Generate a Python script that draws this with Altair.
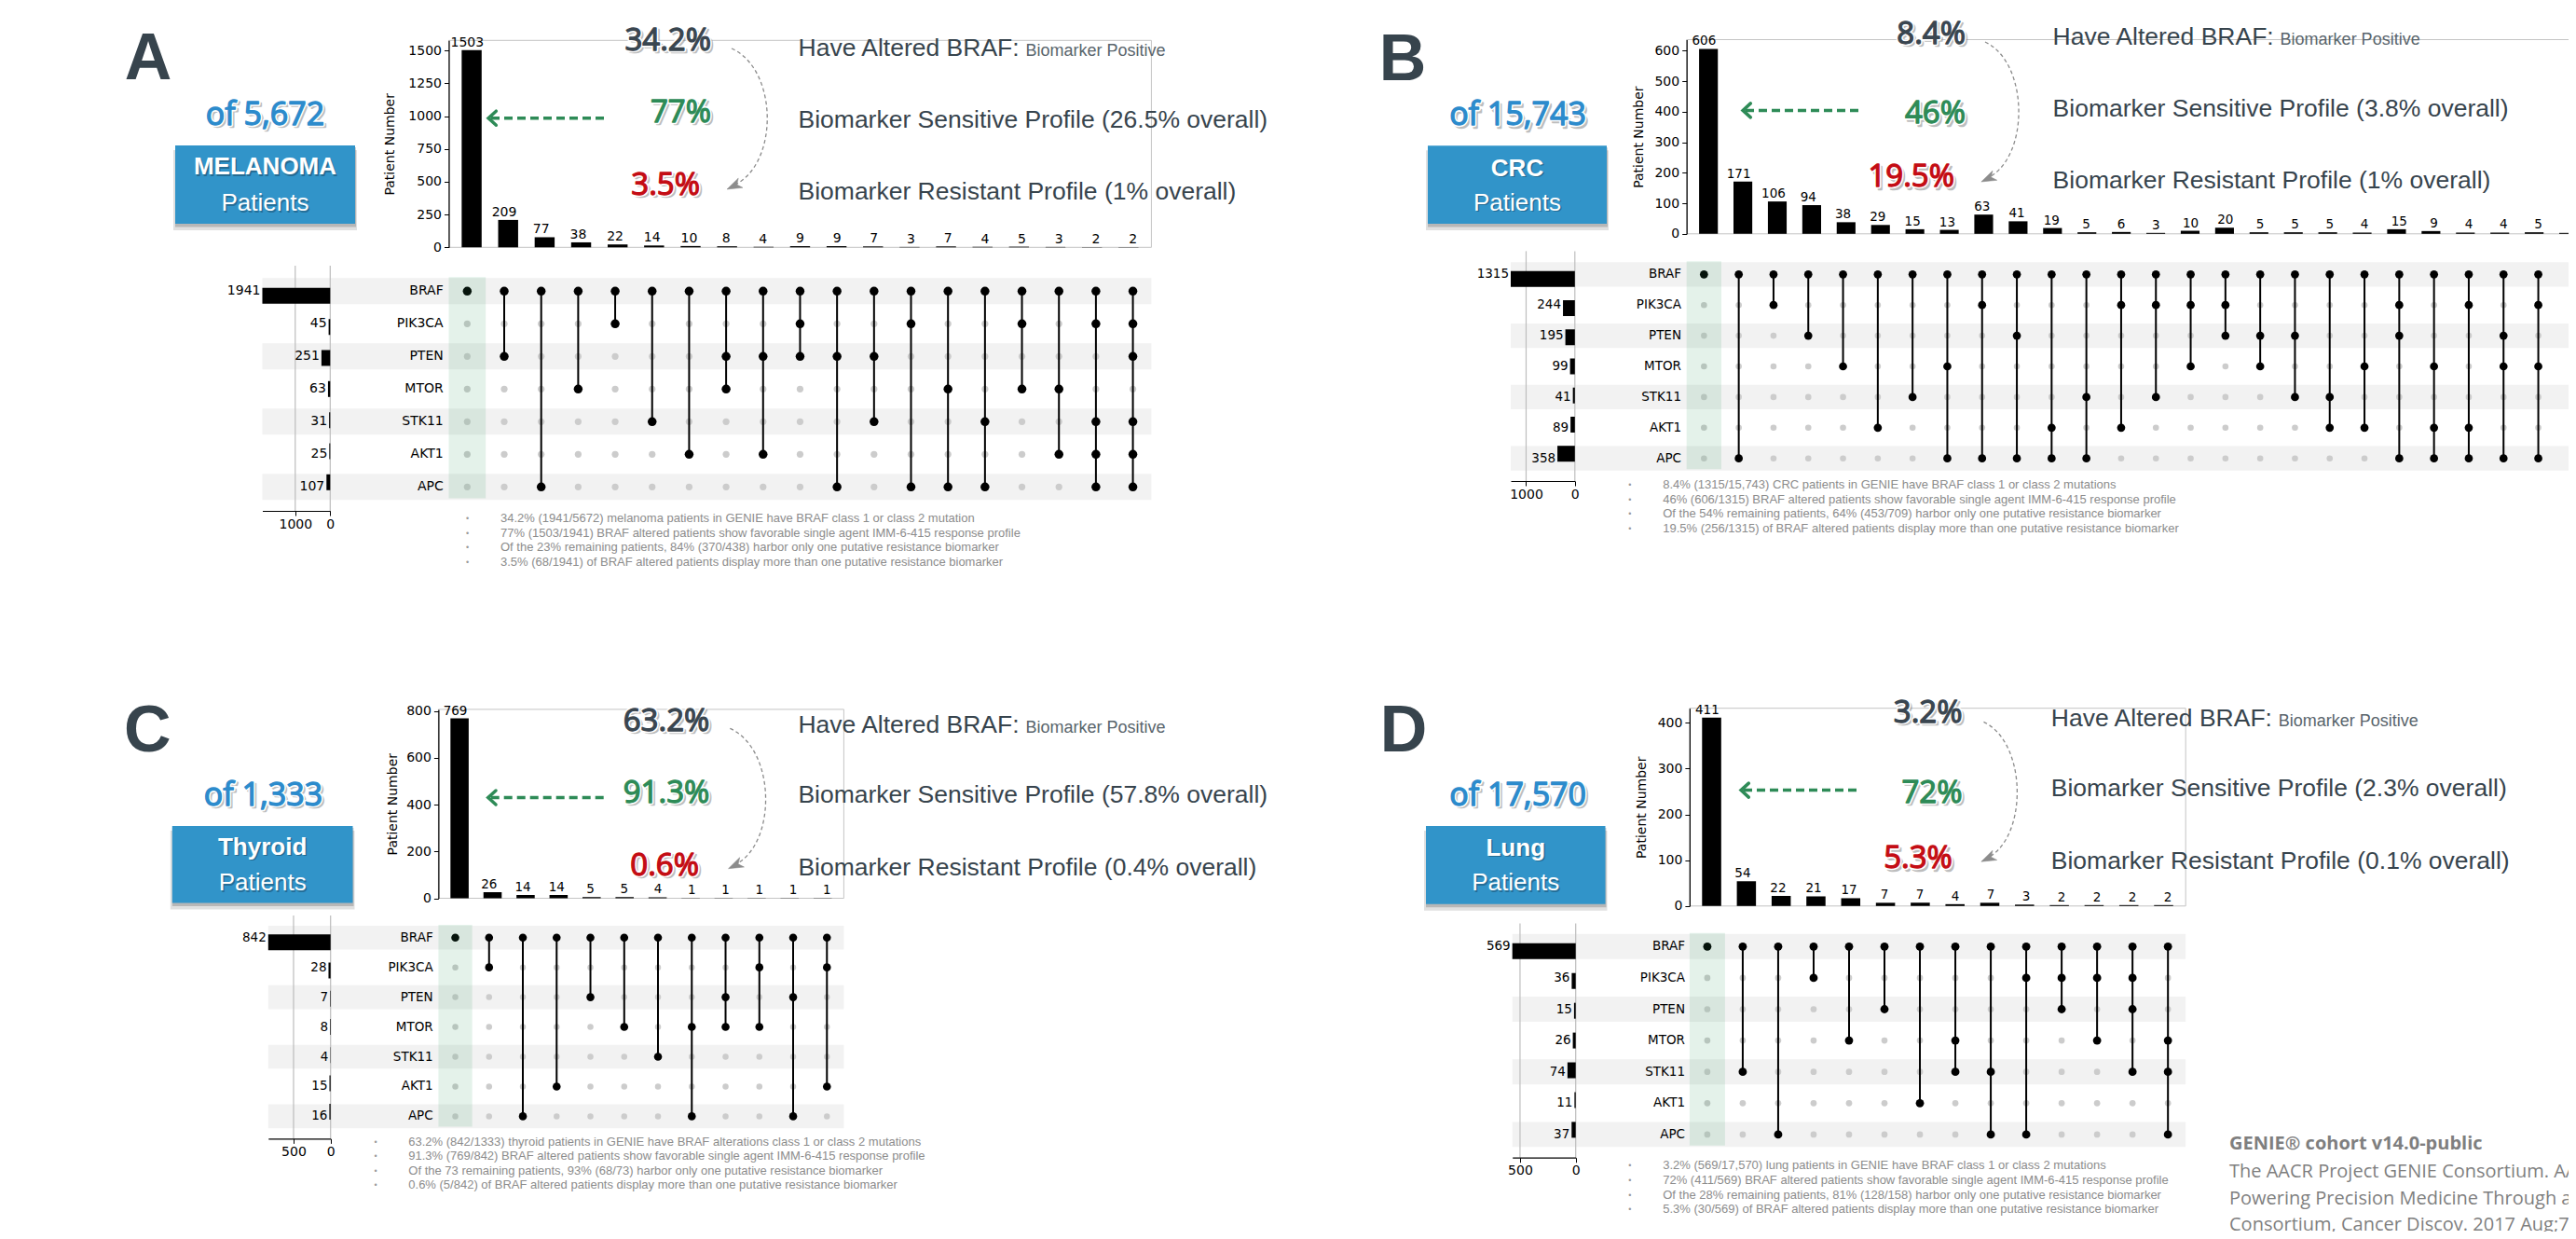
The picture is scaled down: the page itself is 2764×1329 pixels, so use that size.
import altair as alt
import pandas as pd

M = 8
W, H = 2748, 1313

GENES = ["BRAF", "PIK3CA", "PTEN", "MTOR", "STK11", "AKT1", "APC"]

# ---------------- Panel A: melanoma
A_SET_SIZES = [1941, 45, 251, 63, 31, 25, 107]
A_COUNTS = [1503, 209, 77, 38, 22, 14, 10, 8, 4, 9, 9, 7, 3, 7, 4, 5, 3, 2, 2]
A_COMBOS = [
    ["BRAF"], ["BRAF", "PTEN"], ["BRAF", "APC"], ["BRAF", "MTOR"], ["BRAF", "PIK3CA"],
    ["BRAF", "STK11"], ["BRAF", "AKT1"], ["BRAF", "PTEN", "MTOR"], ["BRAF", "PTEN", "AKT1"],
    ["BRAF", "PIK3CA", "PTEN"], ["BRAF", "PTEN", "APC"], ["BRAF", "PTEN", "STK11"],
    ["BRAF", "PIK3CA", "APC"], ["BRAF", "MTOR", "APC"], ["BRAF", "STK11", "APC"],
    ["BRAF", "PIK3CA", "MTOR"], ["BRAF", "MTOR", "AKT1"],
    ["BRAF", "PIK3CA", "STK11", "AKT1", "APC"],
    ["BRAF", "PIK3CA", "PTEN", "STK11", "AKT1", "APC"],
]
A_YTICKS = [0, 250, 500, 750, 1000, 1250, 1500]
A_SSTICKS = [1000, 0]
A_TEXT = dict(
    letter="A", total="of 5,672", cohort="MELANOMA", pcts=["34.2%", "77%", "3.5%"],
    sens="Biomarker Sensitive Profile (26.5% overall)", res="Biomarker Resistant Profile (1% overall)",
    notes=[
        "34.2% (1941/5672) melanoma patients in GENIE have BRAF class 1 or class 2 mutation",
        "77% (1503/1941) BRAF altered patients show favorable single agent IMM-6-415 response profile",
        "Of the 23% remaining patients, 84% (370/438) harbor only one putative resistance biomarker",
        "3.5% (68/1941) of BRAF altered patients display more than one putative resistance biomarker",
    ])

# ---------------- Panel B: CRC
B_SET_SIZES = [1315, 244, 195, 99, 41, 89, 358]
B_COUNTS = [606, 171, 106, 94, 38, 29, 15, 13, 63, 41, 19, 5, 6, 3, 10, 20, 5, 5, 5, 4, 15, 9, 4, 4, 5, 3]
B_COMBOS = [
    ["BRAF"], ["BRAF", "APC"], ["BRAF", "PIK3CA"], ["BRAF", "PTEN"], ["BRAF", "MTOR"],
    ["BRAF", "AKT1"], ["BRAF", "STK11"], ["BRAF", "MTOR", "APC"], ["BRAF", "PIK3CA", "APC"],
    ["BRAF", "PTEN", "APC"], ["BRAF", "AKT1", "APC"], ["BRAF", "STK11", "APC"],
    ["BRAF", "PIK3CA", "AKT1"], ["BRAF", "PIK3CA", "STK11"], ["BRAF", "PIK3CA", "MTOR"],
    ["BRAF", "PIK3CA", "PTEN"], ["BRAF", "PTEN", "MTOR"], ["BRAF", "PTEN", "STK11"],
    ["BRAF", "STK11", "AKT1"], ["BRAF", "MTOR", "AKT1"], ["BRAF", "PIK3CA", "PTEN", "APC"],
    ["BRAF", "MTOR", "AKT1", "APC"], ["BRAF", "PIK3CA", "AKT1", "APC"],
    ["BRAF", "PTEN", "MTOR", "APC"], ["BRAF", "PIK3CA", "MTOR", "APC"],
    ["BRAF", "PIK3CA", "PTEN", "MTOR"],
]
B_YTICKS = [0, 100, 200, 300, 400, 500, 600]
B_SSTICKS = [1000, 0]
B_TEXT = dict(
    letter="B", total="of 15,743", cohort="CRC", pcts=["8.4%", "46%", "19.5%"],
    sens="Biomarker Sensitive Profile (3.8% overall)", res="Biomarker Resistant Profile (1% overall)",
    notes=[
        "8.4% (1315/15,743) CRC patients in GENIE have BRAF class 1 or class 2 mutations",
        "46% (606/1315) BRAF altered patients show favorable single agent IMM-6-415 response profile",
        "Of the 54% remaining patients, 64% (453/709) harbor only one putative resistance biomarker",
        "19.5% (256/1315) of BRAF altered patients display more than one putative resistance biomarker",
    ])

# ---------------- Panel C: thyroid
C_SET_SIZES = [842, 28, 7, 8, 4, 15, 16]
C_COUNTS = [769, 26, 14, 14, 5, 5, 4, 1, 1, 1, 1, 1]
C_COMBOS = [
    ["BRAF"], ["BRAF", "PIK3CA"], ["BRAF", "APC"], ["BRAF", "AKT1"], ["BRAF", "PTEN"],
    ["BRAF", "MTOR"], ["BRAF", "STK11"], ["BRAF", "MTOR", "APC"], ["BRAF", "PTEN", "MTOR"],
    ["BRAF", "PIK3CA", "MTOR"], ["BRAF", "PTEN", "APC"], ["BRAF", "PIK3CA", "AKT1"],
]
C_YTICKS = [0, 200, 400, 600, 800]
C_SSTICKS = [500, 0]
C_TEXT = dict(
    letter="C", total="of 1,333", cohort="Thyroid", pcts=["63.2%", "91.3%", "0.6%"],
    sens="Biomarker Sensitive Profile (57.8% overall)", res="Biomarker Resistant Profile (0.4% overall)",
    notes=[
        "63.2% (842/1333) thyroid patients in GENIE have BRAF alterations class 1 or class 2 mutations",
        "91.3% (769/842) BRAF altered patients show favorable single agent IMM-6-415 response profile",
        "Of the 73 remaining patients, 93% (68/73) harbor only one putative resistance biomarker",
        "0.6% (5/842) of BRAF altered patients display more than one putative resistance biomarker",
    ])

# ---------------- Panel D: lung
D_SET_SIZES = [569, 36, 15, 26, 74, 11, 37]
D_COUNTS = [411, 54, 22, 21, 17, 7, 7, 4, 7, 3, 2, 2, 2, 2]
D_COMBOS = [
    ["BRAF"], ["BRAF", "STK11"], ["BRAF", "APC"], ["BRAF", "PIK3CA"], ["BRAF", "MTOR"],
    ["BRAF", "PTEN"], ["BRAF", "AKT1"], ["BRAF", "MTOR", "STK11"], ["BRAF", "STK11", "APC"],
    ["BRAF", "PIK3CA", "APC"], ["BRAF", "PIK3CA", "PTEN"], ["BRAF", "PIK3CA", "MTOR"],
    ["BRAF", "PIK3CA", "PTEN", "STK11"], ["BRAF", "MTOR", "STK11", "APC"],
]
D_YTICKS = [0, 100, 200, 300, 400]
D_SSTICKS = [500, 0]
D_TEXT = dict(
    letter="D", total="of 17,570", cohort="Lung", pcts=["3.2%", "72%", "5.3%"],
    sens="Biomarker Sensitive Profile (2.3% overall)", res="Biomarker Resistant Profile (0.1% overall)",
    notes=[
        "3.2% (569/17,570) lung patients in GENIE have BRAF class 1 or class 2 mutations",
        "72% (411/569) BRAF altered patients show favorable single agent IMM-6-415 response profile",
        "Of the 28% remaining patients, 81% (128/158) harbor only one putative resistance biomarker",
        "5.3% (30/569) of BRAF altered patients display more than one putative resistance biomarker",
    ])

HEADLINE = "Have Altered BRAF:"
HEADLINE_SUB = "Biomarker Positive"
CREDIT = [
    "GENIE® cohort v14.0-public",
    "The AACR Project GENIE Consortium. AACR Project GENIE:",
    "Powering Precision Medicine Through an International",
    "Consortium, Cancer Discov. 2017 Aug;7(8):818-831.",
]

# ---------------- layout (page pixels)
LAYOUT = {
    "A": dict(letter=(159, 85), total=(284.5, 121.7), box=(188, 156, 381, 240), box_lines=(178, 217),
              bar_x0=481.5, sp=39.68, bar_y0=265.3, bar_ytop=43.3, title_pad=12,
              row0=312.3, rstep=35, gene_right=475.7, ss_zero=354.3, ss_max=281.5,
              ss_axis_y=548, ss_grid_top=285,
              pct_right=(763, 763, 751), pct_y=(41.7, 119, 196.8), garrow=(651.7, 524, 126.7),
              curve=(785, 52, 822.7, 127, 780, 203), text_x=856.5, text_y=(50, 127, 204),
              foot=(501.7, 537, 556, 15.6), fs=14, dot_a=90, dot_i=52),
    "B": dict(letter=(1505, 85.7), total=(1628.5, 122.4), box=(1532, 156.3, 1724, 240), box_lines=(179.6, 216.3),
              bar_x0=1809.7, sp=37.3, bar_y0=250.8, bar_ytop=42.5, title_pad=9,
              row0=294.3, rstep=32.9, gene_right=1804, ss_zero=1689.8, ss_max=1621,
              ss_axis_y=516, ss_grid_top=269.4,
              pct_right=(2109, 2109, 2097), pct_y=(34.7, 120.4, 188.6), garrow=(1995, 1870, 118.4),
              curve=(2130, 45, 2165.5, 118, 2125.8, 195), text_x=2202.6, text_y=(38.8, 115.5, 192.6),
              foot=(1748.9, 1784.2, 520.4, 15.4), fs=13.5, dot_a=76, dot_i=44),
    "C": dict(letter=(158.4, 806), total=(282.5, 851.8), box=(184.8, 886, 378.5, 968.5), box_lines=(907.6, 946),
              bar_x0=470.4, sp=36.25, bar_y0=963.5, bar_ytop=760.9, title_pad=7,
              row0=1005.7, rstep=31.95, gene_right=464.7, ss_zero=354.7, ss_max=287.8,
              ss_axis_y=1221.4, ss_grid_top=982,
              pct_right=(761.3, 761.3, 750), pct_y=(771.9, 848.9, 927.1), garrow=(649.5, 523.7, 855.5),
              curve=(783.3, 781.4, 821, 853.8, 781.5, 931.7), text_x=856.4, text_y=(776, 851.8, 929.6),
              foot=(403, 438.3, 1224.7, 15.4), fs=13.5, dot_a=74, dot_i=42),
    "D": dict(letter=(1506, 806), total=(1628.6, 851.8), box=(1530, 886, 1722.5, 969.7), box_lines=(908.5, 946),
              bar_x0=1812.9, sp=38.02, bar_y0=971.8, bar_ytop=759.7, title_pad=10,
              row0=1015.3, rstep=33.6, gene_right=1808, ss_zero=1690.7, ss_max=1622.7,
              ss_axis_y=1241.7, ss_grid_top=990.4,
              pct_right=(2105.5, 2105.5, 2094.9), pct_y=(762.8, 848.9, 919.2), garrow=(1993.4, 1868, 847.6),
              curve=(2128.5, 774.4, 2163.8, 853.8, 2125.8, 924.2), text_x=2200.8, text_y=(769, 844.3, 922.1),
              foot=(1748.9, 1784.2, 1250, 15.8), fs=13.5, dot_a=78, dot_i=45),
}

DV = "DejaVu Sans"
LS = "Liberation Sans"
OS = "Open Sans"
DARK = "#37444d"
PCT_COLORS = ["#3a4650", "#2e8b57", "#c40d14"]
BLUE_TXT = "#2c8bcc"
BOX_BLUE = "#3194c9"
ONE = pd.DataFrame({"k": [0]})


def txt(text, x, y, size, color, font=LS, weight="normal", align="left", baseline="alphabetic",
        opacity=1.0, stroke=None, sw=None):
    kw = dict(font=font, fontSize=size, fontWeight=weight, align=align, baseline=baseline,
              fill=color, opacity=opacity)
    if stroke:
        kw.update(stroke=stroke, strokeWidth=sw, strokeJoin="round")
    return alt.Chart(pd.DataFrame({"t": [text]})).mark_text(**kw).encode(
        x=alt.value(x - M), y=alt.value(y - M), text="t:N")


def fancy(text, x, y, size, color, font=OS, weight="normal", align="left"):
    return [
        txt(text, x + 2.5, y + 2.5, size, "#6f6f6f", font, weight, align, opacity=0.45,
            stroke="#6f6f6f", sw=2.5),
        txt(text, x, y, size, "white", font, weight, align, stroke="white", sw=4.5),
        txt(text, x, y, size, color, font, weight, align, stroke=color, sw=1.3),
    ]


def vrect(x1, y1, x2, y2, **mk):
    return alt.Chart(ONE).mark_rect(**mk).encode(
        x=alt.value(x1 - M), x2=alt.value(x2 - M), y=alt.value(y1 - M), y2=alt.value(y2 - M))


def vrule(x1, y1, x2, y2, **mk):
    return alt.Chart(ONE).mark_rule(**mk).encode(
        x=alt.value(x1 - M), x2=alt.value(x2 - M), y=alt.value(y1 - M), y2=alt.value(y2 - M))


def vsym(path, x, y, span, angle=0, **mk):
    return alt.Chart(ONE).mark_point(shape=path, size=span * span, angle=angle, opacity=1, **mk).encode(
        x=alt.value(x - M), y=alt.value(y - M))


def panel(L, T, set_sizes, counts, combos, yticks, ssticks):
    n = len(counts)
    fs = L["fs"]
    x0 = L["bar_x0"] - M
    sp = L["sp"]

    def col_scale():
        return alt.Scale(domain=[-0.5, n - 0.5], range=[x0, x0 + n * sp], nice=False, zero=False)

    ymax = max(counts) * 1.05

    def cnt_scale():
        return alt.Scale(domain=[0, ymax], range=[L["bar_y0"] - M, L["bar_ytop"] - M], nice=False, zero=False)

    r0 = L["row0"] - M

    def row_scale():
        return alt.Scale(domain=[0, 6], range=[r0, r0 + 6 * L["rstep"]], nice=False, zero=False)

    def ss_scale():
        return alt.Scale(domain=[0, max(set_sizes)], range=[L["ss_zero"] - M, L["ss_max"] - M],
                         nice=False, zero=False)

    bars = pd.DataFrame({"col": list(range(n)), "count": counts, "zero": 0})
    mat = pd.DataFrame([{"col": c, "row": r, "active": g in combo}
                        for c, combo in enumerate(combos) for r, g in enumerate(GENES)])
    lines = pd.DataFrame([{"col": c, "r1": min(GENES.index(g) for g in combo),
                           "r2": max(GENES.index(g) for g in combo)}
                          for c, combo in enumerate(combos) if len(combo) > 1])
    sets = pd.DataFrame({"gene": GENES, "row": list(range(7)), "size": set_sizes, "zero": 0})

    layers = []
    # stripes + gene labels
    layers.append(alt.Chart(pd.DataFrame({"row": [0, 2, 4, 6]})).transform_calculate(
        ra="datum.row - 0.4", rb="datum.row + 0.4"
    ).mark_rect(color="#f2f2f2").encode(
        x=alt.value(L["ss_max"] - M), x2=alt.value(x0 + n * sp),
        y=alt.Y("ra:Q", scale=row_scale(), axis=None), y2="rb:Q"))
    layers.append(alt.Chart(sets).mark_text(align="right", baseline="middle", font=DV, fontSize=fs,
                                            fill="black").encode(
        x=alt.value(L["gene_right"] - M), y=alt.Y("row:Q", scale=row_scale(), axis=None), text="gene:N"))

    # set-size bars
    ss_axis = alt.Axis(orient="bottom", offset=(L["ss_axis_y"] - M) - H, values=ssticks, title=None,
                       tickSize=5, tickColor="black", domainColor="black", domainWidth=1.2,
                       labelFont=DV, labelFontSize=14, labelColor="black", labelPadding=2,
                       labelFlush=False, labelOverlap=False, grid=False, minExtent=0, format="d", zindex=1)
    layers.append(alt.Chart(pd.DataFrame({"t": ssticks})).mark_rule(color="#bdbdbd", strokeWidth=1.2).encode(
        x=alt.X("t:Q", scale=ss_scale(), axis=None),
        y=alt.value(L["ss_grid_top"] - M), y2=alt.value(L["ss_axis_y"] - M)))
    layers.append(alt.Chart(sets).mark_bar(orient="horizontal", size=17, color="black").encode(
        x=alt.X("size:Q", scale=ss_scale(), axis=ss_axis), x2="zero:Q",
        y=alt.Y("row:Q", scale=row_scale(), axis=None)))
    layers.append(alt.Chart(sets).mark_text(align="right", baseline="middle", dx=-2, font=DV, fontSize=fs,
                                            fill="black").encode(
        x=alt.X("size:Q", scale=ss_scale(), axis=None), y=alt.Y("row:Q", scale=row_scale(), axis=None),
        text=alt.Text("size:Q", format="d")))

    # intersection bar chart
    yaxis = alt.Axis(orient="left", offset=-x0, values=yticks, title="Patient Number",
                     titleFont=DV, titleFontSize=14, titleFontWeight="normal", titleColor="black",
                     titlePadding=L["title_pad"], tickSize=5, tickColor="black", domainColor="black",
                     domainWidth=1.2, labelFont=DV, labelFontSize=14, labelColor="black", labelPadding=3,
                     labelFlush=False, labelOverlap=False, grid=False, minExtent=0, format="d", zindex=1)
    layers.append(alt.Chart(pd.DataFrame({"a": [-0.5], "b": [n - 0.5], "lo": [0], "hi": [ymax]})).mark_rect(
        fillOpacity=0, stroke="#c4c4c4", strokeWidth=1).encode(
        x=alt.X("a:Q", scale=col_scale(), axis=None), x2="b:Q",
        y=alt.Y("lo:Q", scale=cnt_scale(), axis=None), y2="hi:Q"))
    layers.append(alt.Chart(bars).mark_bar(orient="vertical", size=0.54 * sp, color="black").encode(
        x=alt.X("col:Q", scale=col_scale(), axis=None),
        y=alt.Y("count:Q", scale=cnt_scale(), axis=yaxis), y2="zero:Q"))
    layers.append(alt.Chart(bars).mark_text(baseline="alphabetic", dy=-4, font=DV, fontSize=fs,
                                            fill="black").encode(
        x=alt.X("col:Q", scale=col_scale(), axis=None),
        y=alt.Y("count:Q", scale=cnt_scale(), axis=None), text=alt.Text("count:Q", format="d")))

    # matrix
    layers.append(alt.Chart(mat[~mat["active"]]).mark_circle(size=L["dot_i"], color="#cccccc", opacity=1).encode(
        x=alt.X("col:Q", scale=col_scale(), axis=None), y=alt.Y("row:Q", scale=row_scale(), axis=None)))
    layers.append(alt.Chart(lines).mark_rule(strokeWidth=2, color="black").encode(
        x=alt.X("col:Q", scale=col_scale(), axis=None),
        y=alt.Y("r1:Q", scale=row_scale(), axis=None), y2="r2:Q"))
    layers.append(alt.Chart(mat[mat["active"]]).mark_circle(size=L["dot_a"], color="black", opacity=1).encode(
        x=alt.X("col:Q", scale=col_scale(), axis=None), y=alt.Y("row:Q", scale=row_scale(), axis=None)))
    layers.append(alt.Chart(pd.DataFrame({"a": [-0.5], "b": [0.5], "lo": [-0.43], "hi": [6.35]})).mark_rect(
        color="#2e9e5b", opacity=0.13).encode(
        x=alt.X("a:Q", scale=col_scale(), axis=None), x2="b:Q",
        y=alt.Y("lo:Q", scale=row_scale(), axis=None), y2="hi:Q"))

    # annotations
    lx, lb = L["letter"]
    layers.append(txt(T["letter"], lx, lb, 70, DARK, LS, "bold", "center"))
    ox, oy = L["total"]
    layers += fancy(T["total"], ox, oy + 12, 34, BLUE_TXT, OS, "normal", "center")
    bx1, by1, bx2, by2 = L["box"]
    layers.append(vrect(bx1 - 2, by1 + 5, bx2 + 2, by2 + 7, color="black", opacity=0.12))
    layers.append(vrect(bx1, by1 + 2, bx2 + 1, by2 + 3.5, color="black", opacity=0.18))
    layers.append(vrect(bx1, by1, bx2, by2, color=BOX_BLUE))
    cxm = (bx1 + bx2) / 2
    l1, l2 = L["box_lines"]
    layers.append(txt(T["cohort"], cxm + 1.5, l1 + 9.3 + 1.5, 26, "#1b4a66", LS, "bold", "center", opacity=0.55))
    layers.append(txt(T["cohort"], cxm, l1 + 9.3, 26, "white", LS, "bold", "center"))
    layers.append(txt("Patients", cxm + 1.5, l2 + 9.3 + 1.5, 26, "#1b4a66", LS, "normal", "center", opacity=0.5))
    layers.append(txt("Patients", cxm, l2 + 9.3, 26, "white", LS, "normal", "center"))

    for i in range(3):
        layers += fancy(T["pcts"][i], L["pct_right"][i], L["pct_y"][i] + 11.8, 33, PCT_COLORS[i], OS,
                        "normal", "right")

    # green dashed arrow
    tail, tip, gy = L["garrow"]
    layers.append(vrule(tip + 3, gy, tail, gy, color="#2e8b57", strokeWidth=3.5, strokeDash=[9, 5]))
    layers.append(vsym("M 0.55 -1 L -0.55 0 L 0.55 1", tip + 4.2, gy, 15, filled=False,
                       stroke="#2e8b57", strokeWidth=3.5, strokeCap="round"))

    # curved grey dashed arrow
    sx, sy, rx, ry, ex, ey = L["curve"]
    cy = (sy + ey) / 2
    R = (ey - sy) / 2
    cx = (min(sx, ex) + rx) / 2
    c = (8 * rx - sx - ex) / 6
    nx = lambda v: (v - cx) / R
    path = f"M {nx(sx):.3f} -1 C {nx(c):.3f} -0.7 {nx(c):.3f} 0.7 {nx(ex) + 0.06:.3f} 0.96"
    layers.append(vsym(path, cx, cy, 2 * R, filled=False, stroke="#8c8c8c", strokeWidth=1.3,
                       strokeDash=[4, 3]))
    layers.append(vsym("M 1 -0.7 L -1 0 L 1 0.7 L 0.45 0 Z", ex + 7.3, ey - 3.4, 16, angle=335,
                       filled=True, fill="#8c8c8c", stroke="#8c8c8c", strokeWidth=0.5))

    # headline texts
    tx = L["text_x"]
    ty = L["text_y"]
    layers.append(txt(HEADLINE, tx, ty[0] + 9.5, 26.5, DARK))
    layers.append(txt(HEADLINE_SUB, tx + 244, ty[0] + 9.5, 18, "#59656c"))
    layers.append(txt(T["sens"], tx, ty[1] + 9.5, 26.5, DARK))
    layers.append(txt(T["res"], tx, ty[2] + 9.5, 26.5, DARK))

    # footnotes
    fbx, ftx, fy0, fst = L["foot"]
    notes = pd.DataFrame({"i": list(range(len(T["notes"]))), "t": T["notes"], "b": "•"})

    def fscale():
        return alt.Scale(domain=[0, 3], range=[fy0 - M, fy0 - M + 3 * fst], nice=False, zero=False)

    layers.append(alt.Chart(notes).mark_text(align="left", baseline="middle", font=LS, fontSize=13,
                                             fill="#8c8c8c").encode(
        x=alt.value(ftx - M), y=alt.Y("i:Q", scale=fscale(), axis=None), text="t:N"))
    layers.append(alt.Chart(notes).mark_text(align="center", baseline="middle", font=LS, fontSize=9,
                                             fill="#9a9a9a").encode(
        x=alt.value(fbx - M), y=alt.Y("i:Q", scale=fscale(), axis=None), text="b:N"))
    return layers


all_layers = []
all_layers += panel(LAYOUT["A"], A_TEXT, A_SET_SIZES, A_COUNTS, A_COMBOS, A_YTICKS, A_SSTICKS)
all_layers += panel(LAYOUT["B"], B_TEXT, B_SET_SIZES, B_COUNTS, B_COMBOS, B_YTICKS, B_SSTICKS)
all_layers += panel(LAYOUT["C"], C_TEXT, C_SET_SIZES, C_COUNTS, C_COMBOS, C_YTICKS, C_SSTICKS)
all_layers += panel(LAYOUT["D"], D_TEXT, D_SET_SIZES, D_COUNTS, D_COMBOS, D_YTICKS, D_SSTICKS)

# credit block
credit_y = [1226, 1256, 1285, 1313]
all_layers.append(txt(CREDIT[0], 2392, credit_y[0] + 7, 20, "#7f7f7f", OS, "bold"))
for k in range(1, 4):
    all_layers.append(txt(CREDIT[k], 2392, credit_y[k] + 7, 20, "#7f7f7f", OS, "normal"))

chart = alt.layer(*all_layers).resolve_scale(x="independent", y="independent").properties(
    width=W, height=H, padding=0, autosize=alt.AutoSizeParams(type="none"), background="white"
).configure_view(strokeWidth=0)

chart.save("out.html", embed_options={"renderer": "svg", "actions": False})
